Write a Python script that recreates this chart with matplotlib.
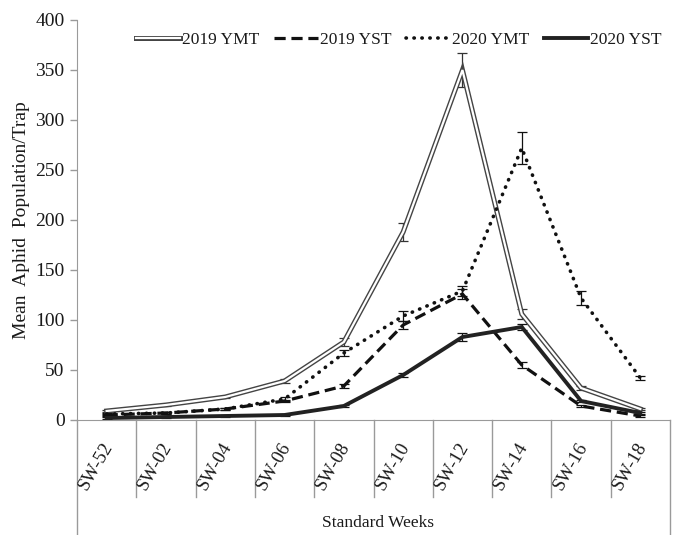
import matplotlib
matplotlib.use("Agg")
import matplotlib.pyplot as plt
import numpy as np

weeks = ["SW-52", "SW-02", "SW-04", "SW-06", "SW-08",
         "SW-10", "SW-12", "SW-14", "SW-16", "SW-18"]

ymt_2019 = [9, 15, 23, 39, 78, 188, 350, 106, 32, 11]
ymt_2019_err = [1, 1, 1, 2, 4, 9, 17, 5, 2, 1]
yst_2019 = [5, 7, 11, 19, 34, 95, 126, 55, 14, 4]
yst_2019_err = [1, 1, 1, 1, 2, 4, 5, 3, 1, 1]
ymt_2020 = [6, 7, 11, 21, 67, 104, 129, 272, 122, 42]
ymt_2020_err = [1, 1, 1, 2, 3, 5, 5, 16, 7, 2]
yst_2020 = [2, 3, 4, 5, 14, 45, 83, 93, 19, 7]
yst_2020_err = [1, 1, 1, 1, 1, 2, 4, 3, 1, 1]

plt.rcParams['font.family'] = ['Liberation Serif', 'DejaVu Serif']
TXT = '#1a1a1a'
AX = '#9a9a9a'

fig = plt.figure(figsize=(6.8, 5.35), dpi=100)
ax = fig.add_axes([77/680, 115/535, (670-77)/680, 400/535])
x = np.arange(len(weeks))

# error bars first, lines on top
for vals, err, c in [(ymt_2019, ymt_2019_err, '#333333'), (yst_2019, yst_2019_err, '#111111'),
                     (ymt_2020, ymt_2020_err, '#111111'), (yst_2020, yst_2020_err, '#111111')]:
  ax.errorbar(x, vals, yerr=err, fmt='none', ecolor=c, elinewidth=0.9, capsize=3.5, capthick=0.9, zorder=2)

outer, = ax.plot(x, ymt_2019, color='#444444', lw=3.6, solid_joinstyle='miter', zorder=3)
inner, = ax.plot(x, ymt_2019, color='white', lw=1.6, solid_joinstyle='miter', zorder=3.1)
dash, = ax.plot(x, yst_2019, color='#111111', lw=2.3, linestyle=(0, (3.5, 1.8)), zorder=3.2)
dot, = ax.plot(x, ymt_2020, color='#111111', lw=2.6, linestyle=(0, (0.1, 2.1)),
               dash_capstyle='round', zorder=3.3)
solid, = ax.plot(x, yst_2020, color='#222222', lw=2.8, zorder=3.4)

ax.set_xlim(-0.5, len(weeks) - 0.5)
ax.set_ylim(0, 400)
ax.set_yticks(range(0, 401, 50))
ax.tick_params(axis='y', labelsize=14, colors=AX, labelcolor=TXT, length=5, width=1, pad=4)
ax.set_xticks([])
for s in ['top', 'right']:
  ax.spines[s].set_visible(False)
ax.spines['bottom'].set_color(AX)
ax.spines['left'].set_color(AX)

xt = ax.get_xaxis_transform()
# left and right frame lines running down to the bottom
ax.plot([-0.5, -0.5], [0, -0.3], color=AX, lw=1, transform=xt, clip_on=False)
ax.plot([9.5, 9.5], [0, -0.3], color=AX, lw=1, transform=xt, clip_on=False)
for b in np.arange(0.5, len(weeks) - 1, 1.0):
  ax.plot([b, b], [0, -0.193], color=AX, lw=1, transform=xt, clip_on=False)

for i, w in enumerate(weeks):
  ax.text(i - 0.18, -0.115, w, transform=xt, rotation=60, ha='center', va='center',
          fontsize=13.5, color=TXT)

ax.text(4.58, -0.258, "Standard Weeks", transform=xt, ha='center', va='center', fontsize=12.5, color=TXT)
fig.text(22/680, 1 - 220/535, "Mean  Aphid  Population/Trap", rotation=90, ha='center', va='center',
         fontsize=14, color=TXT)

fig.legend([(outer, inner), dash, dot, solid], ["2019 YMT", "2019 YST", "2020 YMT", "2020 YST"],
           loc='center', bbox_to_anchor=(399/680, 1 - 40/535), ncol=4, frameon=False,
           fontsize=12.5, handlelength=2.5, handletextpad=0.15, columnspacing=0.85,
           labelcolor=TXT)

fig.savefig("out.png", dpi=100)
